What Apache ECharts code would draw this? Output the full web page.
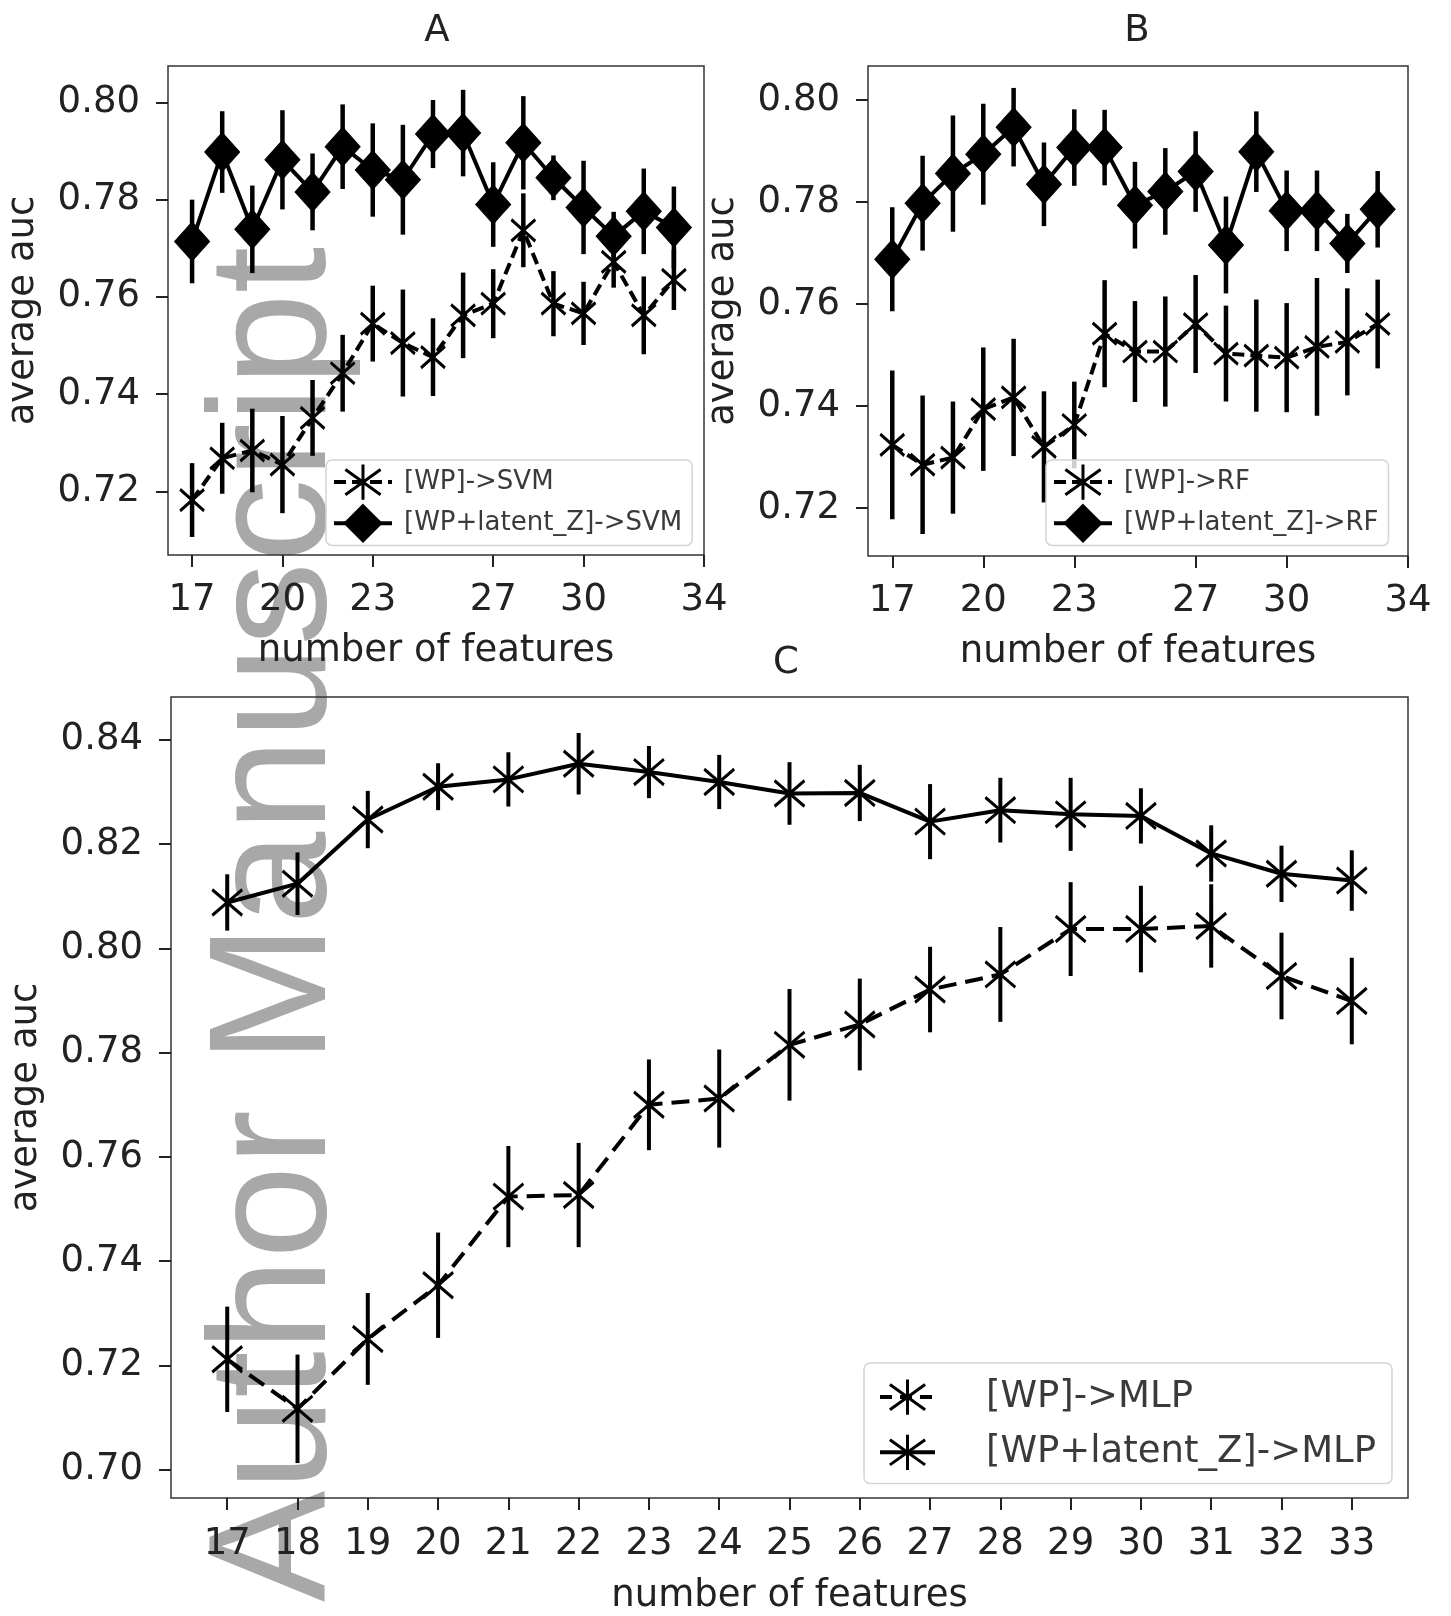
<!DOCTYPE html>
<html><head><meta charset="utf-8">
<script src="https://cdn.jsdelivr.net/npm/echarts@6/dist/echarts.min.js"></script>
<style>html,body{margin:0;padding:0;background:#fff}#c{width:1451px;height:1616px}</style>
</head><body><div id="c"></div>
<script>
// ---------- data ----------
const features = [17,18,19,20,21,22,23,24,25,26,27,28,29,30,31,32,33];

const svmWP     = [0.7182,0.7268,0.7284,0.7255,0.7351,0.7443,0.7545,0.7505,0.7476,0.7562,0.7586,0.7737,0.7586,0.7566,0.7672,0.7562,0.7635];
const svmWPErr  = [0.0076,0.0073,0.0086,0.0100,0.0078,0.0079,0.0078,0.0110,0.0080,0.0088,0.0071,0.0076,0.0067,0.0065,0.0053,0.0080,0.0062];
const svmWPZ    = [0.7714,0.7898,0.7739,0.7882,0.7816,0.7909,0.7861,0.7841,0.7935,0.7937,0.7790,0.7917,0.7845,0.7784,0.7725,0.7776,0.7743];
const svmWPZErr = [0.0086,0.0084,0.0090,0.0102,0.0079,0.0087,0.0096,0.0113,0.0070,0.0089,0.0087,0.0096,0.0046,0.0096,0.0050,0.0088,0.0084];

const rfWP      = [0.7324,0.7285,0.7299,0.7394,0.7417,0.7320,0.7363,0.7542,0.7507,0.7507,0.7561,0.7503,0.7499,0.7495,0.7516,0.7526,0.7561];
const rfWPErr   = [0.0146,0.0136,0.0110,0.0121,0.0115,0.0109,0.0085,0.0105,0.0099,0.0108,0.0096,0.0094,0.0110,0.0107,0.0135,0.0105,0.0087];
const rfWPZ     = [0.7688,0.7798,0.7856,0.7894,0.7947,0.7835,0.7907,0.7907,0.7794,0.7821,0.7860,0.7716,0.7899,0.7783,0.7783,0.7719,0.7786];
const rfWPZErr  = [0.0102,0.0093,0.0114,0.0099,0.0077,0.0082,0.0075,0.0074,0.0085,0.0085,0.0079,0.0095,0.0079,0.0079,0.0079,0.0058,0.0075];

const mlpWP     = [0.7212,0.7117,0.7251,0.7354,0.7524,0.7527,0.7700,0.7712,0.7815,0.7854,0.7921,0.7950,0.8037,0.8037,0.8043,0.7947,0.7899];
const mlpWPErr  = [0.0101,0.0104,0.0088,0.0101,0.0097,0.0100,0.0087,0.0094,0.0107,0.0088,0.0082,0.0091,0.0090,0.0083,0.0080,0.0083,0.0083];
const mlpWPZ    = [0.8088,0.8124,0.8247,0.8310,0.8324,0.8354,0.8338,0.8319,0.8297,0.8298,0.8243,0.8265,0.8257,0.8254,0.8182,0.8143,0.8130];
const mlpWPZErr = [0.0054,0.0060,0.0055,0.0045,0.0052,0.0059,0.0050,0.0052,0.0060,0.0054,0.0072,0.0062,0.0070,0.0053,0.0054,0.0054,0.0058];

const xTicksAB = [17,20,23,27,30,34];
const xTicksC  = [17,18,19,20,21,22,23,24,25,26,27,28,29,30,31,32,33];
const yTicksAB = [0.72,0.74,0.76,0.78,0.80];
const yTicksC  = [0.70,0.72,0.74,0.76,0.78,0.80,0.82,0.84];

const panelTitles = ['A','B','C'];
const xName = 'number of features';
const yName = 'average auc';
const names = {
  svmWP:'[WP]->SVM', svmWPZ:'[WP+latent_Z]->SVM',
  rfWP:'[WP]->RF', rfWPZ:'[WP+latent_Z]->RF',
  mlpWP:'[WP]->MLP', mlpWPZ:'[WP+latent_Z]->MLP'
};
const watermark = 'Author Manuscript';

// ---------- styling / building ----------
const FONT = 'DejaVu Sans';
const TXT = '#222';
const STAR = 'path://M0,0L20,20M0,20L20,0M10,-4L10,24';
const DASH_AB = [12,6];
const DASH_C = [18,9];

function errRender(lw){
  return function(params, api){
    const x = api.value(0), y = api.value(1), e = api.value(2);
    const a = api.coord([x, y - e]), b = api.coord([x, y + e]);
    return {type:'line', shape:{x1:a[0], y1:a[1], x2:b[0], y2:b[1]},
            style:{stroke:'#000', lineWidth:lw}};
  };
}

function makeSeries(name, vals, errs, gi, opt){
  const line = {
    type:'line', name:name, xAxisIndex:gi, yAxisIndex:gi,
    data: features.map((f,i)=>[f, vals[i]]),
    symbol: opt.symbol, symbolSize: opt.symbolSize,
    itemStyle:{color:'#000', borderColor:'#000', borderWidth: opt.symbol === 'diamond' ? 1 : 3},
    lineStyle:{color:'#000', width: opt.lw, type: opt.dash || 'solid'},
    z: 3, silent:true
  };
  const err = {
    type:'custom', name:name + ' err', xAxisIndex:gi, yAxisIndex:gi,
    data: features.map((f,i)=>[f, vals[i], errs[i]]),
    encode:{x:0, y:1},
    renderItem: errRender(opt.elw), z: 2, silent:true
  };
  return [line, err];
}

const grids = [
  {left:168, top:66, width:536, height:489},
  {left:868, top:66, width:540, height:490},
  {left:168, top:697, width:1240, height:806}
];

function xAxis(gi, min, max, ticks, margin, gap){
  return {type:'value', gridIndex:gi, min:min, max:max,
    name:xName, nameLocation:'middle', nameGap:gap,
    nameTextStyle:{fontFamily:FONT, fontSize:37, color:TXT},
    axisLine:{show:false},
    axisTick:{show:true, length:12, lineStyle:{color:'#222', width:2}, customValues:ticks},
    axisLabel:{show:true, customValues:ticks, margin:margin, fontFamily:FONT, fontSize:37, color:TXT,
      formatter:v=>String(v)},
    splitLine:{show:false}};
}
function yAxis(gi, min, max, ticks){
  return {type:'value', gridIndex:gi, min:min, max:max,
    name:yName, nameLocation:'middle', nameGap:126, nameRotate:90,
    nameTextStyle:{fontFamily:FONT, fontSize:37, color:TXT},
    axisLine:{show:false},
    axisTick:{show:true, length:12, lineStyle:{color:'#222', width:2}, customValues:ticks},
    axisLabel:{show:true, customValues:ticks, margin:28, fontFamily:FONT, fontSize:37, color:TXT,
      formatter:v=>v.toFixed(2)},
    splitLine:{show:false}};
}

const series = [].concat(
  makeSeries(names.svmWP,  svmWP,  svmWPErr,  0, {symbol:STAR, symbolSize:[24,30], lw:4, elw:4.5, dash:DASH_AB}),
  makeSeries(names.svmWPZ, svmWPZ, svmWPZErr, 0, {symbol:'diamond', symbolSize:[35,39], lw:4, elw:4.5}),
  makeSeries(names.rfWP,   rfWP,   rfWPErr,   1, {symbol:STAR, symbolSize:[24,30], lw:4, elw:4.5, dash:DASH_AB}),
  makeSeries(names.rfWPZ,  rfWPZ,  rfWPZErr,  1, {symbol:'diamond', symbolSize:[35,39], lw:4, elw:4.5}),
  makeSeries(names.mlpWP,  mlpWP,  mlpWPErr,  2, {symbol:STAR, symbolSize:[30,36], lw:4, elw:4, dash:DASH_C}),
  makeSeries(names.mlpWPZ, mlpWPZ, mlpWPZErr, 2, {symbol:STAR, symbolSize:[30,36], lw:4, elw:4})
);

function legend(left, top, list, dashes, fs, iw, ih, gap, pad, textPad){
  return {orient:'vertical', left:left, top:top, itemWidth:iw, itemHeight:ih, itemGap:gap,
    padding:pad, borderColor:'#d4d4d4', borderWidth:1.5, borderRadius:6,
    backgroundColor:'rgba(255,255,255,0.8)', selectedMode:false,
    textStyle:{fontFamily:FONT, fontSize:fs, color:'#3a3a3a', padding:[0,0,0,textPad]},
    data:list.map((n,i)=>({name:n,
      itemStyle:{borderWidth:3, borderColor:'#000', color:'#000'},
      lineStyle:{width:4, color:'#000', type:dashes[i]}}))};
}

const option = {
  animation:false,
  backgroundColor:'#fff',
  textStyle:{fontFamily:FONT},
  title:[
    {text:panelTitles[0], left:437, top:13, textAlign:'center', padding:0, textStyle:{fontFamily:FONT, fontSize:37, fontWeight:'normal', color:TXT}},
    {text:panelTitles[1], left:1137, top:13, textAlign:'center', padding:0, textStyle:{fontFamily:FONT, fontSize:37, fontWeight:'normal', color:TXT}},
    {text:panelTitles[2], left:786, top:645, textAlign:'center', padding:0, textStyle:{fontFamily:FONT, fontSize:37, fontWeight:'normal', color:TXT}}
  ],
  grid: grids.map(g=>Object.assign({show:true, borderColor:'#333', borderWidth:1.5, backgroundColor:'transparent'}, g)),
  xAxis:[xAxis(0,16.2,34,xTicksAB,27,78), xAxis(1,16.2,34,xTicksAB,27,78), xAxis(2,16.2,33.8,xTicksC,28,80)],
  yAxis:[yAxis(0,0.7069,0.8075,yTicksAB), yAxis(1,0.7106,0.8067,yTicksAB), yAxis(2,0.6946,0.8482,yTicksC)],
  legend:[
    legend(326, 460, [names.svmWP, names.svmWPZ], [[12,6],'solid'], 26, 58, 44, 3, [3,10,3,6], 7),
    legend(1046, 460, [names.rfWP, names.rfWPZ], [[12,6],'solid'], 26, 58, 44, 3, [3,10,3,6], 7),
    legend(864, 1363, [names.mlpWP, names.mlpWPZ], [[12,8],'solid'], 37, 55, 44, 17, [15,16,12,14], 46)
  ],
  graphic:[{
    type:'text', x:279, y:1602, rotation:Math.PI/2, z:-1, silent:true,
    style:{text:watermark, font:'167px "Liberation Sans"', fontSize:167, fontFamily:'Liberation Sans',
      fill:'#a8a8a8', textAlign:'left', textVerticalAlign:'middle', align:'left', verticalAlign:'middle'}
  }],
  series: series
};

const chart = echarts.init(document.getElementById('c'), null, {renderer:'canvas'});
chart.setOption(option);
</script>
</body></html>
